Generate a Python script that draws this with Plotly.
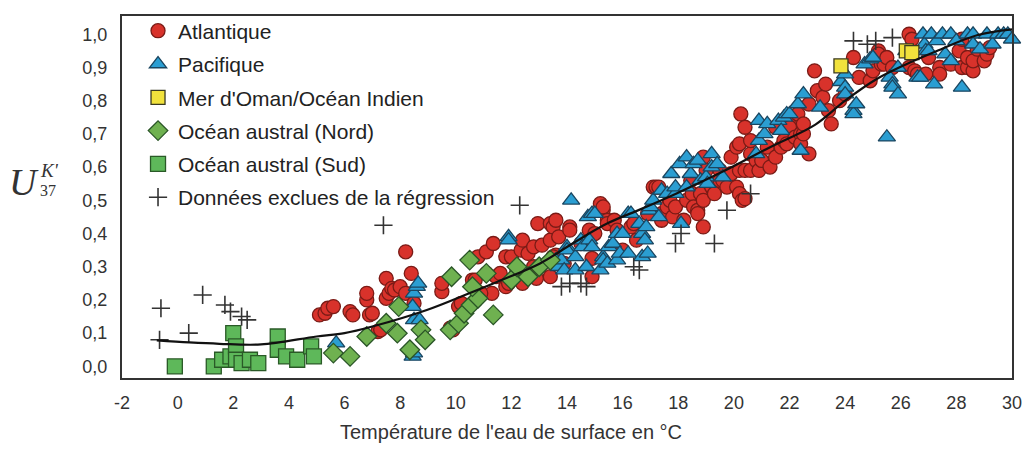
import plotly.graph_objects as go

# ---------------- data ----------------
X_TICKS = [-2, 0, 2, 4, 6, 8, 10, 12, 14, 16, 18, 20, 22, 24, 26, 28, 30]
X_TICK_TEXT = ["-2", "0", "2", "4", "6", "8", "10", "12", "14", "16", "18", "20", "22", "24", "26", "28", "30"]
Y_TICKS = [0.0, 0.1, 0.2, 0.3, 0.4, 0.5, 0.6, 0.7, 0.8, 0.9, 1.0]

SERIES_NAMES = ["Atlantique", "Pacifique", "Mer d'Oman/Océan Indien",
                "Océan austral (Nord)", "Océan austral (Sud)",
                "Données exclues de la régression"]

ATLANTIQUE = [
    (5.1, 0.155), (5.3, 0.16), (5.4, 0.175), (5.6, 0.18), (6.2, 0.165), (6.3, 0.155),
    (6.8, 0.20), (6.8, 0.22), (6.9, 0.155), (7.0, 0.16), (7.2, 0.105), (7.3, 0.11),
    (7.5, 0.265), (7.5, 0.205), (7.6, 0.22), (7.7, 0.235), (7.8, 0.23), (8.0, 0.24),
    (8.2, 0.345), (8.2, 0.22), (8.4, 0.28), (8.5, 0.19), (9.5, 0.225), (9.5, 0.25),
    (9.8, 0.115), (9.9, 0.11), (10.1, 0.18), (10.2, 0.19),
    (10.6, 0.26), (10.7, 0.26), (10.8, 0.33), (11.1, 0.345), (11.1, 0.28), (11.35, 0.37),
    (11.45, 0.27), (11.6, 0.28), (11.8, 0.33), (11.8, 0.24), (11.9, 0.25), (12.0, 0.33),
    (12.35, 0.35), (12.4, 0.38), (12.4, 0.25), (12.6, 0.34), (12.8, 0.36), (12.8, 0.30),
    (12.9, 0.265), (12.95, 0.43), (13.0, 0.30), (13.1, 0.365), (13.4, 0.43), (13.4, 0.27),
    (13.4, 0.38), (13.5, 0.42), (13.6, 0.44), (13.6, 0.335), (13.7, 0.39), (13.5, 0.33),
    (14.1, 0.42), (14.1, 0.41), (13.9, 0.31), (12.2, 0.29), (11.3, 0.22), (10.9, 0.22),
    (14.5, 0.37), (14.8, 0.41), (14.9, 0.325), (14.9, 0.27), (15.0, 0.40), (15.2, 0.49),
    (15.3, 0.47), (15.3, 0.48), (15.45, 0.44), (15.45, 0.43), (15.7, 0.44), (15.8, 0.41),
    (16.0, 0.35), (16.3, 0.42), (16.4, 0.43), (16.5, 0.38), (16.9, 0.46), (17.1, 0.54),
    (17.2, 0.54), (17.3, 0.54), (17.4, 0.44), (17.4, 0.46), (17.6, 0.48), (17.7, 0.50),
    (17.8, 0.45), (17.9, 0.48), (18.2, 0.44), (18.3, 0.50), (18.45, 0.56), (18.5, 0.52),
    (18.55, 0.48), (18.7, 0.47), (18.7, 0.46), (18.8, 0.52), (18.9, 0.42), (18.9, 0.63),
    (18.9, 0.50), (19.0, 0.59), (19.2, 0.54), (19.3, 0.52), (19.5, 0.59), (19.5, 0.56),
    (19.6, 0.56), (19.75, 0.54), (19.9, 0.63), (19.9, 0.58), (20.1, 0.54), (20.1, 0.66),
    (20.2, 0.67), (20.2, 0.52), (20.2, 0.59), (20.25, 0.76), (20.3, 0.50), (20.4, 0.72),
    (20.4, 0.59), (20.4, 0.505), (20.6, 0.64), (20.6, 0.68), (20.6, 0.59), (20.8, 0.62),
    (20.9, 0.59), (21.0, 0.62), (21.2, 0.66), (21.3, 0.60), (21.5, 0.72), (21.5, 0.63),
    (21.7, 0.66), (21.8, 0.68), (21.9, 0.67), (22.0, 0.73), (22.0, 0.72), (22.2, 0.69),
    (22.3, 0.76), (22.4, 0.70), (22.4, 0.67), (22.5, 0.70), (22.5, 0.73), (22.7, 0.79),
    (22.7, 0.64), (22.9, 0.89), (23.0, 0.83), (23.2, 0.81), (23.3, 0.85), (23.4, 0.77),
    (23.5, 0.73), (23.8, 0.80), (24.0, 0.82), (24.3, 0.93), (24.5, 0.87), (24.9, 0.86),
    (25.0, 0.89), (25.2, 0.95), (25.2, 0.94), (25.3, 0.91), (25.4, 0.91), (25.5, 0.93),
    (25.7, 0.90), (26.3, 1.0), (26.4, 0.985), (26.3, 0.90), (26.5, 0.89), (26.6, 0.88),
    (26.9, 0.88), (27.0, 0.93), (27.4, 0.90), (27.4, 0.88), (27.8, 0.91), (28.1, 0.95),
    (28.2, 0.985), (28.2, 0.90), (28.4, 0.90), (28.4, 0.93), (28.6, 0.89), (28.6, 0.92),
    (28.75, 0.955), (29.0, 0.92), (29.1, 0.94), (29.2, 0.96),
]

PACIFIQUE = [
    (5.7, 0.07), (8.45, 0.03), (8.5, 0.04), (8.5, 0.14), (8.45, 0.18), (8.5, 0.22),
    (8.6, 0.24), (8.65, 0.25), (8.7, 0.14), (11.9, 0.39), (11.9, 0.38),
    (13.6, 0.32), (13.7, 0.30), (13.8, 0.32), (13.9, 0.29), (14.0, 0.36), (14.0, 0.35),
    (14.15, 0.50), (14.3, 0.33), (14.3, 0.29), (14.5, 0.38), (14.55, 0.36), (14.7, 0.30),
    (14.75, 0.45), (14.8, 0.38), (14.9, 0.36), (14.9, 0.46), (15.0, 0.46), (15.2, 0.29),
    (15.3, 0.33), (15.3, 0.32), (15.45, 0.31), (15.5, 0.36), (15.65, 0.37), (15.8, 0.40),
    (15.8, 0.32), (15.9, 0.34), (16.0, 0.40), (16.2, 0.46), (16.2, 0.34), (16.3, 0.46),
    (16.6, 0.43), (16.7, 0.40), (16.7, 0.33), (16.8, 0.38), (16.85, 0.42), (16.9, 0.34),
    (16.95, 0.47), (17.0, 0.48), (17.1, 0.50), (17.3, 0.45), (17.4, 0.53), (17.6, 0.52),
    (17.75, 0.58), (17.9, 0.52), (17.9, 0.54), (18.05, 0.61), (18.1, 0.43), (18.3, 0.54),
    (18.3, 0.63), (18.45, 0.58), (18.55, 0.61), (18.7, 0.62), (18.8, 0.56), (19.0, 0.57),
    (19.05, 0.55), (19.2, 0.60), (19.2, 0.64), (19.4, 0.61), (19.6, 0.57),
    (20.8, 0.64), (20.9, 0.68), (20.9, 0.74), (21.1, 0.70), (21.2, 0.73), (21.6, 0.74),
    (21.7, 0.71), (21.8, 0.75), (21.9, 0.76), (22.0, 0.76), (22.3, 0.79), (22.4, 0.65),
    (22.5, 0.82), (23.1, 0.78), (23.85, 0.857), (24.0, 0.84), (24.0, 0.88), (24.0, 0.82),
    (24.3, 0.77), (24.3, 0.76), (24.4, 0.79), (24.7, 0.91), (24.9, 0.925), (25.0, 0.93),
    (25.5, 0.69), (25.6, 0.87), (25.7, 0.85), (25.7, 0.84), (25.9, 0.90), (25.9, 0.82),
    (26.2, 0.95), (26.6, 0.87), (26.7, 0.87), (26.8, 1.0), (26.85, 0.97), (26.9, 0.95),
    (27.0, 0.95), (27.1, 1.0), (27.2, 0.85), (27.3, 0.98), (27.5, 1.0), (27.6, 0.94),
    (27.8, 1.0), (27.8, 0.92), (28.0, 0.98), (28.2, 0.84), (28.4, 1.0), (28.6, 1.0),
    (28.6, 0.97), (28.85, 0.955), (29.1, 1.0), (29.3, 0.97), (29.5, 1.0), (29.7, 1.0),
    (29.85, 1.0), (30.0, 0.985),
]

MER_OMAN = [(23.85, 0.905), (26.2, 0.95), (26.4, 0.945)]

AUSTRAL_NORD = [
    (5.6, 0.04), (6.2, 0.03), (6.8, 0.09), (7.5, 0.13), (7.9, 0.10), (7.95, 0.18),
    (8.35, 0.05), (8.75, 0.11), (8.9, 0.08), (9.85, 0.27), (9.8, 0.11), (10.1, 0.13),
    (10.3, 0.16), (10.55, 0.185), (10.8, 0.205), (10.6, 0.24), (10.5, 0.32), (11.1, 0.28),
    (11.35, 0.155), (12.0, 0.26), (12.2, 0.30), (12.6, 0.27), (13.0, 0.30), (13.4, 0.32),
]

AUSTRAL_SUD = [
    (-0.1, 0.00), (1.3, 0.00), (1.6, 0.02), (1.9, 0.03), (2.0, 0.10), (2.1, 0.06),
    (2.1, 0.02), (2.3, 0.01), (2.6, 0.02), (2.9, 0.01), (3.6, 0.09), (3.6, 0.05),
    (3.9, 0.03), (4.3, 0.02), (4.8, 0.06), (4.9, 0.03),
]

EXCLUES = [
    (-0.65, 0.08), (-0.6, 0.175), (0.4, 0.10), (0.9, 0.215), (1.7, 0.185), (1.9, 0.165),
    (2.3, 0.15), (2.5, 0.14), (7.4, 0.425), (12.3, 0.485), (13.8, 0.24), (14.1, 0.25),
    (14.5, 0.25), (14.7, 0.24), (16.4, 0.30), (16.6, 0.29), (17.9, 0.37), (18.1, 0.40),
    (19.3, 0.37), (19.75, 0.47), (20.6, 0.52), (24.3, 0.98), (24.8, 0.97), (25.1, 0.98),
    (25.7, 0.99),
]

REGRESSION = [
    (-0.75, 0.078), (0.42, 0.072), (1.5, 0.068), (3.0, 0.066), (5.0, 0.09), (6.0, 0.10),
    (7.0, 0.12), (8.96, 0.17), (10.33, 0.215), (11.5, 0.255), (13.03, 0.31), (14.2, 0.37),
    (15.44, 0.43), (16.7, 0.475), (17.92, 0.52), (19.64, 0.588), (21.3, 0.66), (22.93, 0.728),
    (24.0, 0.80), (25.15, 0.866), (26.2, 0.91), (27.19, 0.946), (28.74, 0.997), (30.0, 1.015),
]

# ---------------- figure ----------------
FONT = "Liberation Sans, Arial, sans-serif"
SERIF = "Liberation Serif, Times New Roman, serif"

def xs(pts):
    return [p[0] for p in pts]

def ys(pts):
    return [p[1] for p in pts]

fig = go.Figure()

styles = [
    (ATLANTIQUE, "circle", 14, "#d8322b", "#7a1b16"),
    (PACIFIQUE, "triangle-up", 15, "#2b9ed2", "#1b4660"),
    (MER_OMAN, "square", 14, "#f1e23c", "#3a3a20"),
    (AUSTRAL_NORD, "diamond", 15, "#6fb150", "#2a5527"),
    (AUSTRAL_SUD, "square", 15, "#5eb85a", "#2a5a27"),
]

for i, (pts, sym, size, fill, edge) in enumerate(styles):
    fig.add_trace(go.Scatter(
        x=xs(pts), y=ys(pts), mode="markers", name=SERIES_NAMES[i],
        legendgroup=str(i), cliponaxis=False,
        marker=dict(symbol=sym, size=size, color=fill, line=dict(color=edge, width=1.3)),
    ))

fig.add_trace(go.Scatter(
    x=xs(EXCLUES), y=ys(EXCLUES), mode="markers", name=SERIES_NAMES[5],
    legendgroup="5",
    marker=dict(symbol="cross-thin", size=13, color="#333333",
                line=dict(color="#333333", width=1.6)),
))

fig.add_trace(go.Scatter(
    x=xs(REGRESSION), y=ys(REGRESSION), mode="lines", showlegend=False,
    line=dict(color="#111111", width=2.2, shape="spline", smoothing=1.0),
))

fig.update_layout(
    width=1033, height=464,
    margin=dict(l=122, r=11, t=13, b=86),
    paper_bgcolor="white", plot_bgcolor="white",
    separators=",.",
    font=dict(family=FONT, color="#333333"),
    legend=dict(x=0.018, y=1.015, xanchor="left", yanchor="top",
                bgcolor="rgba(0,0,0,0)", tracegroupgap=3,
                font=dict(family=FONT, size=21, color="#222222")),
    xaxis=dict(range=[-2, 30], tickvals=X_TICKS, ticktext=X_TICK_TEXT,
               showgrid=False, zeroline=False, showline=True, mirror=True,
               linecolor="#333333", linewidth=2, ticks="",
               ticklabelstandoff=7, tickfont=dict(size=18, color="#333333")),
    yaxis=dict(range=[-0.035, 1.055], tickvals=Y_TICKS, tickformat=".1f",
               showgrid=False, zeroline=False, showline=True, mirror=True,
               linecolor="#333333", linewidth=2, ticks="",
               ticklabelstandoff=9, tickfont=dict(size=18, color="#333333")),
    annotations=[
        dict(text="<i>U</i>", xref="paper", yref="paper", x=-0.11, y=0.542,
             xanchor="center", yanchor="middle",
             showarrow=False, font=dict(family=SERIF, size=38, color="#333333")),
        dict(text="<i>K'</i>", xref="paper", yref="paper", x=-0.094, y=0.572,
             xanchor="left", yanchor="middle",
             showarrow=False, font=dict(family=SERIF, size=19, color="#333333")),
        dict(text="37", xref="paper", yref="paper", x=-0.094, y=0.518,
             xanchor="left", yanchor="middle",
             showarrow=False, font=dict(family=SERIF, size=16, color="#333333")),
        dict(text="Température de l'eau de surface en °C", xref="paper", yref="paper",
             x=0.437, y=-0.148, xanchor="center", yanchor="middle", showarrow=False,
             font=dict(family=FONT, size=20, color="#333333")),
    ],
)

fig.write_html("out.html",
               config={"displayModeBar": False},
               post_script="document.body.style.margin='0';document.body.style.overflow='hidden';")
